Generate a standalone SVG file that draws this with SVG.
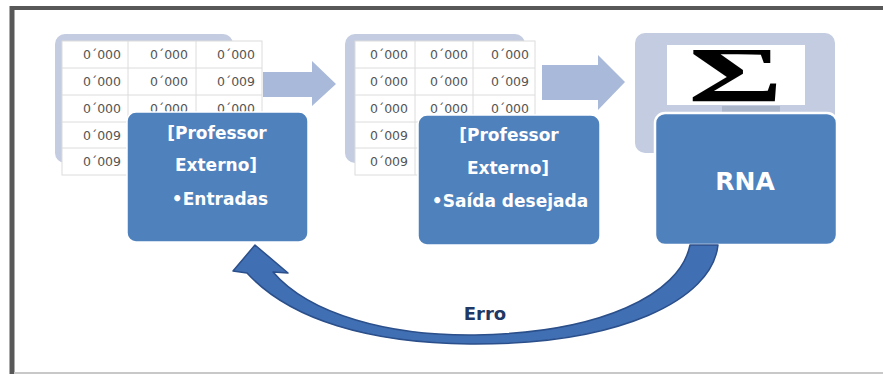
<svg xmlns="http://www.w3.org/2000/svg" width="883" height="374" viewBox="0 0 883 374">
  <style>
    .panel{fill:#c3cce0}
    .chev{fill:#a9b9da}
    .tbl{fill:#ffffff;stroke:#dcdcdc;stroke-width:1}
    .grid{stroke:#dcdcdc;stroke-width:1}
    .cell{font-family:"DejaVu Sans","Liberation Sans",sans-serif;font-size:12.5px;fill:#555555;text-anchor:end}
    .box{fill:#4f81bd;stroke:#ffffff;stroke-width:1.5}
    .lbl{font-family:"DejaVu Sans","Liberation Sans",sans-serif;font-weight:bold;font-size:17px;fill:#ffffff;text-anchor:middle}
  </style>
  <rect x="0" y="0" width="883" height="374" fill="#ffffff"/>
  <g id="frame">
    <line x1="10" y1="8" x2="883" y2="8" stroke="#585858" stroke-width="4"/>
    <line x1="12" y1="6" x2="12" y2="374" stroke="#585858" stroke-width="5"/>
    <line x1="14" y1="373" x2="883" y2="373" stroke="#c8c8c8" stroke-width="2"/>
  </g>

  <g id="entradas">
    <rect class="panel" x="55" y="34" width="178" height="129" rx="10"/>
    <rect class="tbl" x="62" y="41" width="200" height="134"/>
    <g class="grid">
      <line x1="62" y1="68" x2="262" y2="68"/>
      <line x1="62" y1="95" x2="262" y2="95"/>
      <line x1="62" y1="122" x2="262" y2="122"/>
      <line x1="62" y1="148" x2="262" y2="148"/>
      <line x1="128" y1="41" x2="128" y2="175"/>
      <line x1="196" y1="41" x2="196" y2="175"/>
    </g>
    <g class="cell">
      <text x="121" y="59">0´000</text><text x="188" y="59">0´000</text><text x="255" y="59">0´000</text>
      <text x="121" y="86">0´000</text><text x="188" y="86">0´000</text><text x="255" y="86">0´009</text>
      <text x="121" y="113">0´000</text><text x="188" y="113">0´000</text><text x="255" y="113">0´000</text>
      <text x="121" y="140">0´009</text>
      <text x="121" y="166">0´009</text>
    </g>
    <rect class="box" x="127" y="112" width="181" height="130" rx="9"/>
    <text class="lbl" x="217" y="139">[Professor</text>
    <text class="lbl" x="216" y="171">Externo]</text>
    <text class="lbl" x="220" y="205">•Entradas</text>
  </g>

  <g id="saida">
    <rect class="panel" x="345" y="34" width="180" height="129" rx="10"/>
    <rect class="tbl" x="355" y="41" width="180" height="134"/>
    <g class="grid">
      <line x1="355" y1="68" x2="535" y2="68"/>
      <line x1="355" y1="95" x2="535" y2="95"/>
      <line x1="355" y1="122" x2="535" y2="122"/>
      <line x1="355" y1="148" x2="535" y2="148"/>
      <line x1="415" y1="41" x2="415" y2="175"/>
      <line x1="473" y1="41" x2="473" y2="175"/>
    </g>
    <g class="cell">
      <text x="408" y="59">0´000</text><text x="468" y="59">0´000</text><text x="529" y="59">0´000</text>
      <text x="408" y="86">0´000</text><text x="468" y="86">0´000</text><text x="529" y="86">0´009</text>
      <text x="408" y="113">0´000</text><text x="468" y="113">0´000</text><text x="529" y="113">0´000</text>
      <text x="408" y="140">0´009</text>
      <text x="408" y="166">0´009</text>
    </g>
    <rect class="box" x="418" y="115" width="182" height="130" rx="9"/>
    <text class="lbl" x="509" y="141">[Professor</text>
    <text class="lbl" x="508" y="174">Externo]</text>
    <text class="lbl" x="510" y="207">•Saída desejada</text>
  </g>

  <g id="rna">
    <rect class="panel" x="635" y="33" width="200" height="120" rx="10"/>
    <rect x="667" y="45" width="138" height="60" fill="#ffffff"/>
    <text x="688" y="101" font-family="'Liberation Serif','DejaVu Serif',serif" font-weight="bold" font-size="78" fill="#000000" textLength="95" lengthAdjust="spacingAndGlyphs">Σ</text>
    <rect x="722" y="106" width="58" height="6" fill="#8d98ad" opacity="0.45"/>
    <rect class="box" x="655" y="113" width="182" height="132" rx="10" style="stroke-width:2.5"/>
    <text x="745" y="190" font-family="'DejaVu Sans','Liberation Sans',sans-serif" font-weight="bold" font-size="25" fill="#ffffff" text-anchor="middle">RNA</text>
  </g>

  <g id="connectors">
    <path class="chev" d="M263,72 L312,72 L312,61 L336,84 L312,106 L312,97 L263,97 Z"/>
    <path class="chev" d="M542,65 L598,65 L598,55 L625,82 L598,110 L598,100 L542,100 Z"/>
    <path d="M690,245 L718,245 C712,300 620,345 470,344 C370,343 290,320 247,273 L233,271 L255,245 L288,273 L273,272 C310,315 390,336 475,335 C600,333 680,295 690,245 Z" fill="#406fb4" stroke="#2b4f8a" stroke-width="1.5" stroke-linejoin="round"/>
    <text x="485" y="320" font-family="'DejaVu Sans','Liberation Sans',sans-serif" font-weight="bold" font-size="18" fill="#1f3864" text-anchor="middle">Erro</text>
  </g>
</svg>
